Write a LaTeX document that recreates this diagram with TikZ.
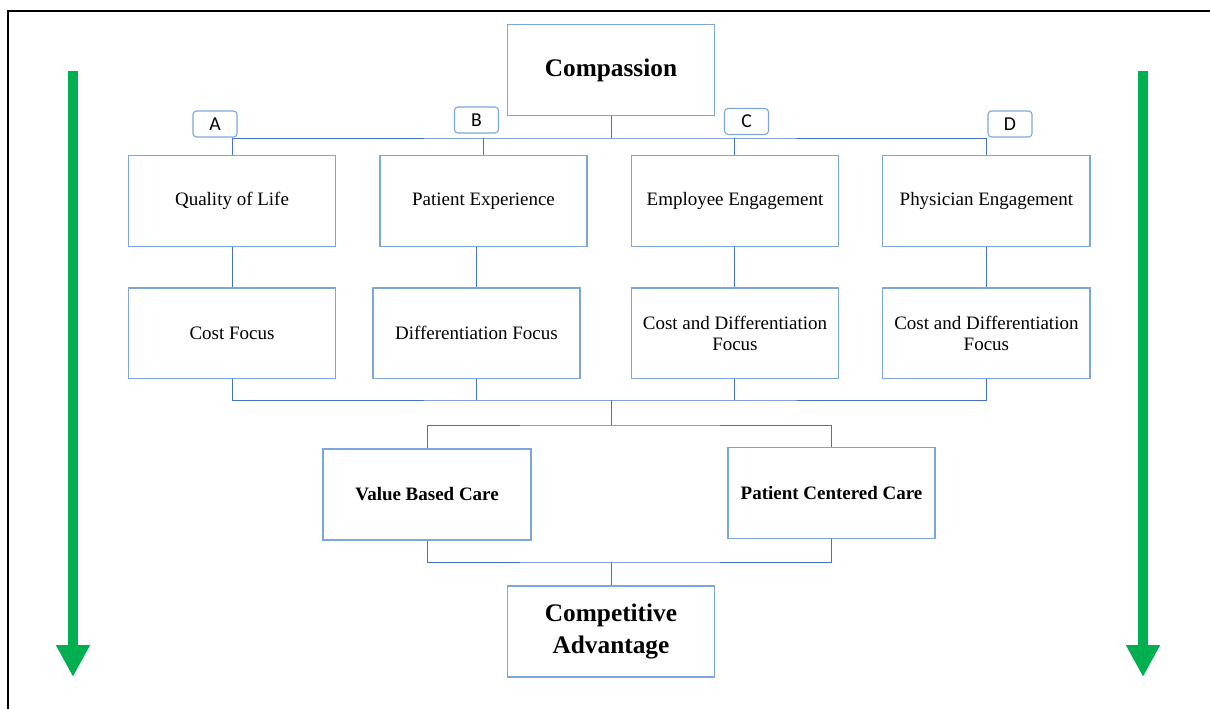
\documentclass[tikz,border=0pt]{standalone}
\usepackage{fontspec}
\setmainfont{Liberation Serif}
\newfontfamily\lblfont{Carlito}
\usetikzlibrary{positioning, calc, arrows.meta}
\definecolor{boxblue}{RGB}{125,166,220}
\definecolor{linkblue}{RGB}{68,114,196}
\definecolor{flowgreen}{RGB}{0,176,80}

\begin{document}
\begin{tikzpicture}[
    x=0.025cm, y=-0.025cm,
    node distance=1cm,
    box/.style={rectangle, draw=boxblue, line width=1pt, minimum width=5.18cm, minimum height=2.27cm, align=center, font=\fontsize{13.5}{15}\selectfont},
    keybox/.style={box, font=\fontsize{13.5}{15}\selectfont\bfseries},
    headbox/.style={box, font=\fontsize{18}{22.5}\selectfont\bfseries},
    tag/.style={rectangle, draw=boxblue, line width=0.8pt, rounded corners=2.5pt, minimum width=1.1cm, minimum height=0.65cm, inner sep=0pt, font=\lblfont\fontsize{14}{14}\selectfont},
    link/.style={draw=linkblue, line width=0.7pt},
    flow/.style={draw=flowgreen, line width=7.1pt, -{Triangle[length=22.7pt, width=22.7pt]}}
]
    \useasboundingbox (0,0) rectangle (1210,709);
    \draw[line width=1.4pt] (8,709) |- (1210,11);

    % boxes
    \node[headbox] (comp) at (611,70) {Compassion};
    \node[box] (qol) at (232,201) {Quality of Life};
    \node[box, right=1.07cm of qol] (pexp) {Patient Experience};
    \node[box, right=1.07cm of pexp] (eeng) {Employee Engagement};
    \node[box, right=1.07cm of eeng] (peng) {Physician Engagement};
    \node[box, below=of qol] (cost) {Cost Focus};
    \node[box, below=of pexp, xshift=-0.175cm] (diff) {Differentiation Focus};
    \node[box, below=of eeng] (cdf1) {Cost and Differentiation\\Focus};
    \node[box, below=of peng] (cdf2) {Cost and Differentiation\\Focus};
    \node[keybox, minimum width=5.2cm] (vbc) at (427,494.5) {Value Based Care};
    \node[keybox] (pcc) at (831.5,493) {Patient Centered Care};
    \node[headbox] (cadv) at (611,631.5) {Competitive\\Advantage};

    % tags
    \node[tag] (ta) at (215,124) {A};
    \node[tag] (tb) at (476.5,120) {B};
    \node[tag] (tc) at (746.5,121.5) {C};
    \node[tag] (td) at (1010,124) {D};

    % connectors
    \coordinate (topbus) at (611,138);
    \draw[link] (comp.south) -- (topbus);
    \draw[link] (qol.north) |- (topbus) -| (peng.north);
    \draw[link] (pexp.north) -- (pexp.north |- topbus);
    \draw[link] (eeng.north) -- (eeng.north |- topbus);
    \foreach \u/\l in {qol/cost, pexp/diff, eeng/cdf1, peng/cdf2}
        \draw[link] (\l.north) -- (\l.north |- \u.south);

    \coordinate (midbus) at (611,400);
    \coordinate (splitbus) at (611,425);
    \coordinate (joinbus) at (611,562);
    \draw[link] (cost.south) |- (midbus) -| (cdf2.south);
    \draw[link] (diff.south) -- (diff.south |- midbus);
    \draw[link] (cdf1.south) -- (cdf1.south |- midbus);
    \draw[link] (midbus) -- (splitbus);
    \draw[link] (vbc.north) |- (splitbus) -| (pcc.north);
    \draw[link] (vbc.south) |- (joinbus) -| (pcc.south);
    \draw[link] (joinbus) -- (cadv.north);

    % side arrows
    \coordinate (ltop) at (73,71);
    \coordinate (lbot) at (73,677);
    \coordinate (rtop) at (1143,71);
    \coordinate (rbot) at (1143,677);
    \draw[flow] (ltop) -- (lbot);
    \draw[flow] (rtop) -- (rbot);
\end{tikzpicture}
\end{document}
